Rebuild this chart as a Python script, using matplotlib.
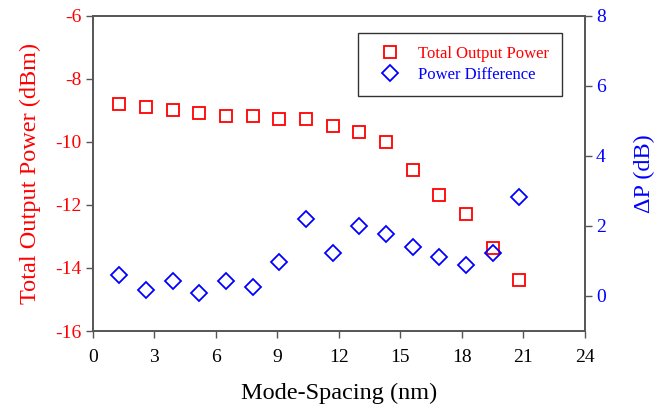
import matplotlib.pyplot as plt

plt.rcParams['font.family'] = ['Liberation Serif', 'DejaVu Serif']
plt.rcParams['axes.unicode_minus'] = False

spacing = [1.3, 2.6, 3.9, 5.2, 6.5, 7.8, 9.1, 10.4, 11.7, 13.0, 14.3, 15.6, 16.9, 18.2, 19.5, 20.8]
total_power = [-8.80, -8.89, -8.99, -9.09, -9.19, -9.19, -9.28, -9.28, -9.49, -9.70,
               -9.99, -10.88, -11.68, -12.29, -13.37, -14.38]
power_diff = [0.59, 0.17, 0.43, 0.09, 0.42, 0.27, 0.97, 2.19, 1.22, 1.99,
              1.77, 1.41, 1.10, 0.89, 1.22, 2.82]

x_ticks = [0, 3, 6, 9, 12, 15, 18, 21, 24]
left_ticks = [-16, -14, -12, -10, -8, -6]
right_ticks = [0, 2, 4, 6, 8]

fig = plt.figure(figsize=(6.65, 4.09), dpi=100)
ax = fig.add_axes([0.1394, 0.1907, 0.7403, 0.7709])
ax2 = ax.twinx()

s1, = ax.plot(spacing, total_power, 's', ms=8, mfc='none', mec='#ff0000', mew=1.3,
              label='Total Output Power')
s2, = ax2.plot(spacing, power_diff, 'D', ms=8, mfc='none', mec='#0000ff', mew=1.3,
               label='Power Difference')

ax.set_xlim(0, 24)
ax.set_ylim(-16, -6)
ax2.set_ylim(-1, 8)
ax.set_xticks(x_ticks)
ax.set_yticks(left_ticks)
ax2.set_yticks(right_ticks)

for a in (ax, ax2):
    for sp in a.spines.values():
        sp.set_color('#555555')
        sp.set_linewidth(1.2)
    a.tick_params(direction='out', length=5, width=1.0, color='#555555', labelsize=14)

ax.tick_params(axis='x', pad=8)
ax.tick_params(axis='y', labelcolor='#ff0000', pad=3)
ax2.tick_params(axis='y', labelcolor='#0000ff', pad=3)

ax.set_xlabel('Mode-Spacing (nm)', fontsize=17.5, labelpad=12)
ax.set_ylabel('Total Output Power (dBm)', fontsize=17.5, color='#ff0000', labelpad=10)
ax2.set_ylabel('ΔP (dB)', fontsize=17.5, color='#0000ff', labelpad=20)

leg = ax.legend(handles=[s1, s2], loc='upper right', bbox_to_anchor=(0.954, 0.946),
                borderaxespad=0, fontsize=12, frameon=True, fancybox=False,
                edgecolor='black', borderpad=0.8, handletextpad=0.6,
                labelspacing=0.3, handlelength=2.2)
leg.get_frame().set_linewidth(1.0)
for txt, c in zip(leg.get_texts(), ['#ff0000', '#0000ff']):
    txt.set_color(c)

fig.savefig('out.png', dpi=100)
